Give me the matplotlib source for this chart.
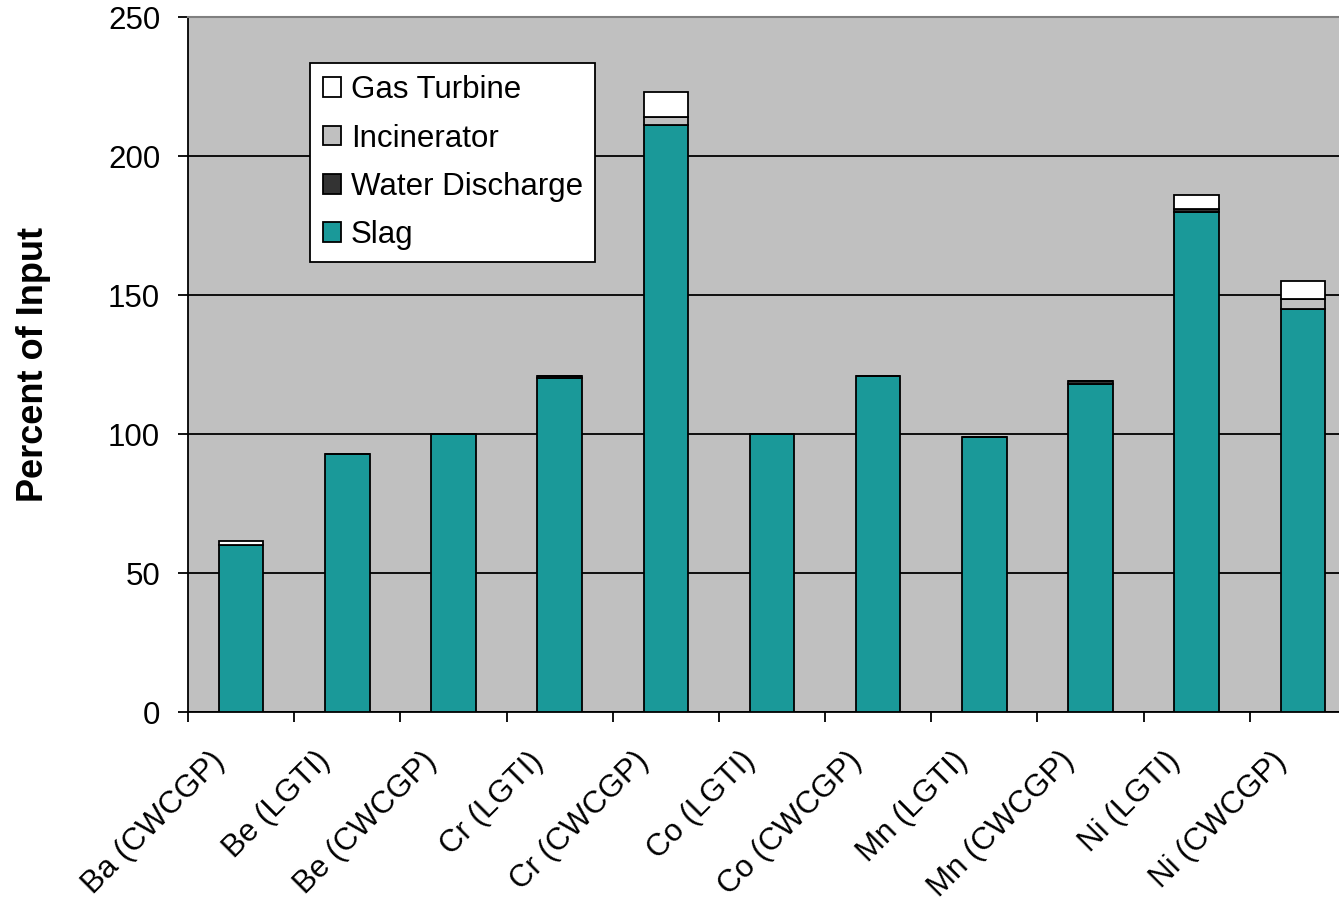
import matplotlib.pyplot as plt
import matplotlib.transforms as mtransforms
import numpy as np

plt.rcParams['font.family'] = ['Liberation Sans', 'DejaVu Sans']

categories = ["Ba (CWCGP)", "Be (LGTI)", "Be (CWCGP)", "Cr (LGTI)", "Cr (CWCGP)",
              "Co (LGTI)", "Co (CWCGP)", "Mn (LGTI)", "Mn (CWCGP)", "Ni (LGTI)", "Ni (CWCGP)"]
slag = [60, 93, 100, 120, 211, 100, 121, 99, 118, 180, 145]
water_discharge = [0, 0, 0, 1, 0, 0, 0, 0, 1, 1, 0]
incinerator = [0, 0, 0, 0, 3, 0, 0, 0, 0, 0, 3.5]
gas_turbine = [1.5, 0, 0, 0, 9, 0, 0, 0, 0, 5, 6.5]

series = [("Slag", slag, "#1a9999"),
          ("Water Discharge", water_discharge, "#333333"),
          ("Incinerator", incinerator, "#c0c0c0"),
          ("Gas Turbine", gas_turbine, "#ffffff")]

FS = 22.5

fig = plt.figure(figsize=(13.39, 9.02), dpi=100)
ax = fig.add_axes([0.1404, 0.2106, 0.8723, 0.7705])
ax.set_facecolor("#c0c0c0")

x = np.arange(len(categories))
bottom = np.zeros(len(categories))
handles = []
for name, vals, color in series:
    vals = np.array(vals, dtype=float)
    b = ax.bar(x, vals, width=0.42, bottom=bottom, color=color,
               edgecolor="black", linewidth=1.3, label=name, zorder=3)
    handles.append(b)
    bottom += vals

ax.set_xlim(-0.5, len(categories) - 0.5)
ax.set_ylim(0, 250)
ax.set_yticks(np.arange(0, 251, 50))
ax.yaxis.grid(True, color="black", linewidth=1.3, zorder=0)
ax.set_axisbelow(True)

ax.set_xticks(x)
ax.set_xticklabels(categories, rotation=45, ha="right", va="top",
                   rotation_mode="anchor", fontsize=FS)
ax.set_xticks(np.arange(-0.5, len(categories), 1), minor=True)
ax.tick_params(axis="x", which="major", length=0, pad=0)
ax.tick_params(axis="x", which="minor", length=7, width=1.3, direction="out")
ax.tick_params(axis="y", length=7, width=1.3, labelsize=FS, pad=13)

# nudge the rotated category labels left and down
shift = mtransforms.ScaledTranslation(-0.32, -0.34, fig.dpi_scale_trans)
for lbl in ax.get_xticklabels():
    lbl.set_transform(lbl.get_transform() + shift)

for side in ["left", "bottom"]:
    ax.spines[side].set_color("black")
    ax.spines[side].set_linewidth(1.3)
ax.spines["top"].set_color("#808080")
ax.spines["top"].set_linewidth(1.5)
ax.spines["right"].set_visible(False)

ax.set_ylabel("Percent of Input", fontsize=26, fontweight="bold")
ax.yaxis.set_label_coords(-0.117, 0.5)

leg = ax.legend(handles[::-1], [s[0] for s in series][::-1],
                loc="upper left", bbox_to_anchor=(0.1045, 0.934),
                fontsize=FS, frameon=True, fancybox=False, edgecolor="black",
                framealpha=1, handlelength=0.6, handleheight=0.6,
                handletextpad=0.3, labelspacing=0.58, borderpad=0.4,
                borderaxespad=0)
leg.get_frame().set_linewidth(1.3)

fig.savefig("out.png", dpi=100)
